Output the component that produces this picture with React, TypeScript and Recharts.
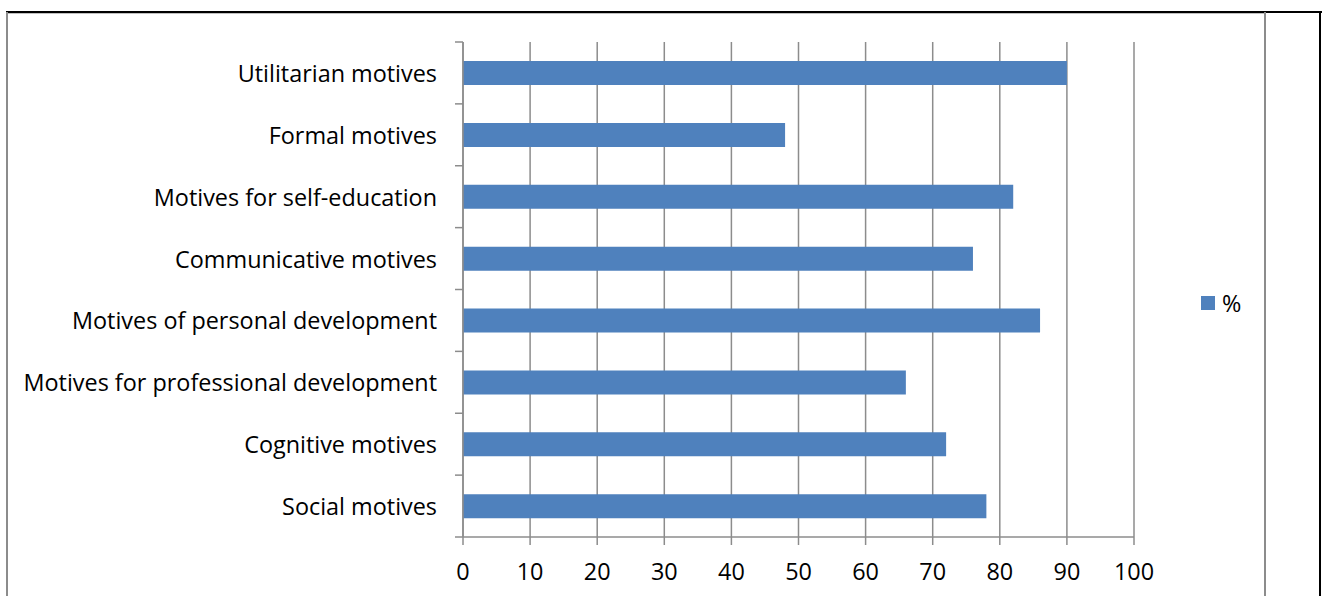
import React from 'react';
import { BarChart, Bar, XAxis, YAxis, CartesianGrid, Legend } from 'recharts';

const categories: string[] = [
  'Utilitarian motives',
  'Formal motives',
  'Motives for self-education',
  'Communicative motives',
  'Motives of personal development',
  'Motives for professional development',
  'Cognitive motives',
  'Social motives',
];
const percentValues: number[] = [90, 48, 82, 76, 86, 66, 72, 78];
const xTicks: number[] = [0, 10, 20, 30, 40, 50, 60, 70, 80, 90, 100];
const seriesName = '%';

const data = categories.map((c, i) => ({ name: c, value: percentValues[i] }));

const FONT = '"Open Sans", sans-serif';
const FONT_SIZE = 23.4;
const GRID = '#8c8c8c';
const BAR = '#4F81BD';
const CHART_H = 596;
const TOP = 42;
const BOTTOM = 59;
const LEGEND_W = 60;

const CategoryTick = (props: any) => {
  const { x, y, payload, index } = props;
  const half =
    payload && typeof payload.offset === 'number' && payload.offset > 0
      ? payload.offset
      : (CHART_H - TOP - BOTTOM) / categories.length / 2;
  const lastIdx = categories.length - 1;
  return (
    <g>
      <line x1={x - 8} x2={x} y1={y - half} y2={y - half} stroke={GRID} strokeWidth={1.5} />
      {index === lastIdx && (
        <line x1={x - 8} x2={x} y1={y + half} y2={y + half} stroke={GRID} strokeWidth={1.5} />
      )}
      <text
        x={x - 26}
        y={y}
        textAnchor="end"
        dominantBaseline="central"
        fontFamily={FONT}
        fontSize={FONT_SIZE}
        fill="#000"
      >
        {payload.value}
      </text>
    </g>
  );
};

const LegendContent = () => (
  <div style={{ display: 'flex', alignItems: 'center', fontFamily: FONT, fontSize: FONT_SIZE, color: '#000', lineHeight: '30px' }}>
    <span style={{ display: 'inline-block', width: 14, height: 14, background: BAR, marginRight: 7 }} />
    <span>{seriesName}</span>
  </div>
);

export default function App() {
  return (
    <div style={{ position: 'absolute', left: 0, top: 0, width: 1322, height: 596, background: '#fff', overflow: 'hidden' }}>
      {/* outer black frame */}
      <div style={{ position: 'absolute', left: 6, top: 11, width: 1316, height: 2, background: '#000' }} />
      <div style={{ position: 'absolute', left: 1319, top: 11, width: 2, height: 585, background: '#000' }} />
      {/* chart area grey frame */}
      <div style={{ position: 'absolute', left: 6, top: 13, width: 1260, height: 1, background: '#bfbfbf' }} />
      <div style={{ position: 'absolute', left: 6, top: 12, width: 2, height: 584, background: '#8c8c8c' }} />
      <div style={{ position: 'absolute', left: 1264, top: 12, width: 2, height: 584, background: '#8c8c8c' }} />
      <div style={{ position: 'absolute', left: 0, top: 0 }}>
        <BarChart
          width={1322}
          height={CHART_H}
          data={data}
          layout="vertical"
          margin={{ top: TOP, right: 188 - LEGEND_W, bottom: 0, left: 0 }}
          barCategoryGap="30%"
        >
          <CartesianGrid horizontal={false} vertical stroke={GRID} strokeWidth={1.5} />
          <XAxis
            type="number"
            domain={[0, 100]}
            ticks={xTicks}
            interval={0}
            axisLine={{ stroke: GRID, strokeWidth: 1.5 }}
            tickLine={{ stroke: GRID, strokeWidth: 1.5 }}
            tickSize={8}
            tickMargin={18}
            height={BOTTOM}
            tick={{ fontFamily: FONT, fontSize: FONT_SIZE, fill: '#000' }}
          />
          <YAxis
            type="category"
            dataKey="name"
            width={463}
            axisLine={{ stroke: GRID, strokeWidth: 1.5 }}
            tickLine={false}
            tickSize={0}
            tickMargin={0}
            interval={0}
            tick={(p: any) => <CategoryTick {...p} />}
          />
          <Legend
            layout="horizontal"
            verticalAlign="middle"
            align="right"
            content={() => <LegendContent />}
            wrapperStyle={{ position: 'absolute', left: 1201, top: 288, width: LEGEND_W, height: 30 }}
          />
          <Bar dataKey="value" name={seriesName} fill={BAR} barSize={24} isAnimationActive={false} />
        </BarChart>
      </div>
    </div>
  );
}
